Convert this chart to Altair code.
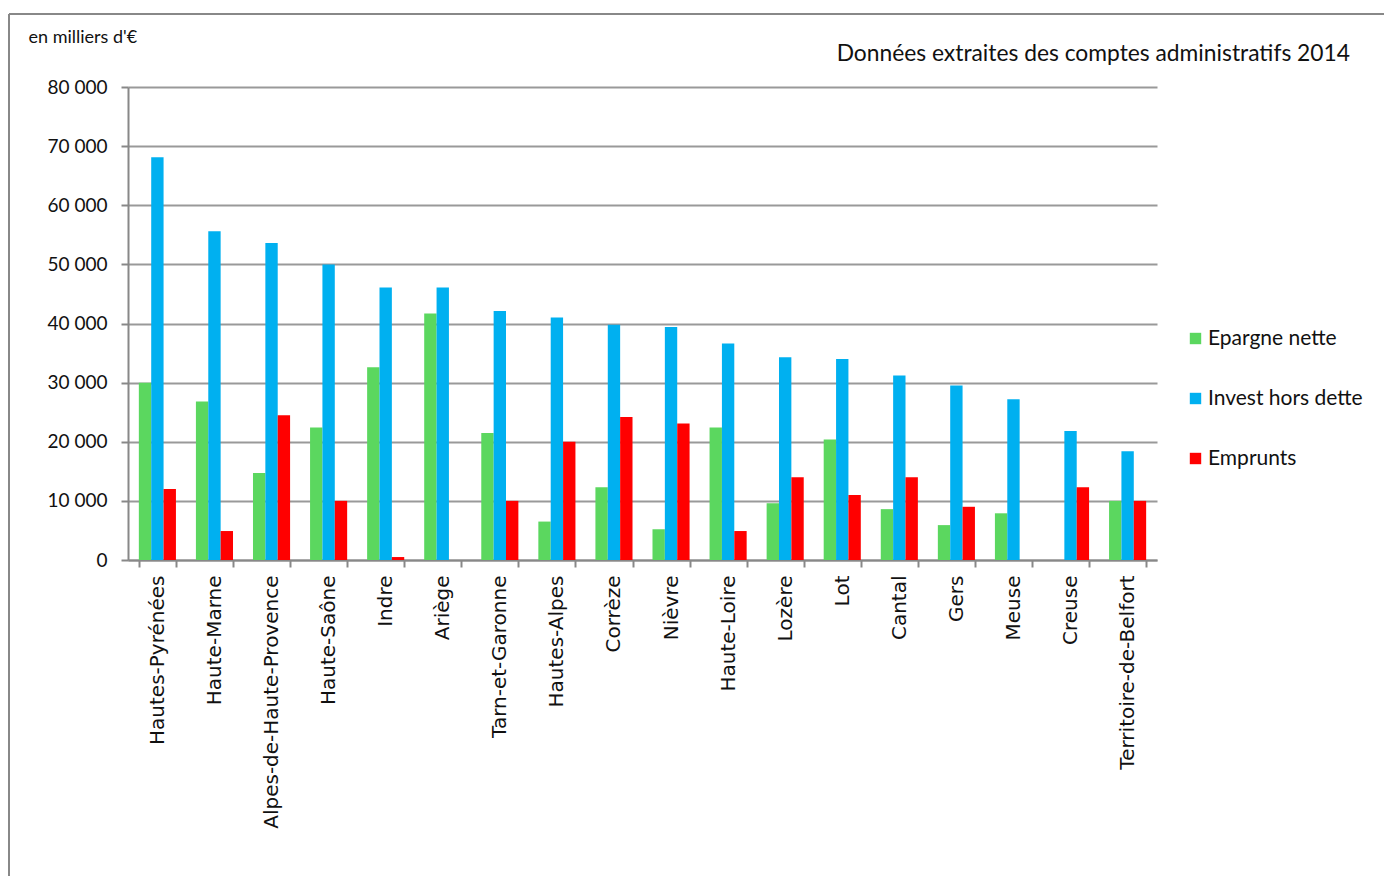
import altair as alt
import pandas as pd

departements = ["Hautes-Pyrénées", "Haute-Marne", "Alpes-de-Haute-Provence", "Haute-Saône",
                "Indre", "Ariège", "Tarn-et-Garonne", "Hautes-Alpes", "Corrèze", "Nièvre",
                "Haute-Loire", "Lozère", "Lot", "Cantal", "Gers", "Meuse", "Creuse",
                "Territoire-de-Belfort"]
epargne = [30000, 26800, 14700, 22400, 32600, 41700, 21500, 6500, 12300, 5200,
           22400, 9600, 20400, 8600, 5900, 7900, 0, 10000]
invest = [68100, 55600, 53600, 50000, 46100, 46100, 42100, 41000, 39800, 39400,
          36600, 34300, 34000, 31200, 29500, 27200, 21800, 18400]
emprunts = [12000, 4900, 24500, 10000, 500, 0, 10000, 20000, 24200, 23100,
            4900, 14000, 11000, 14000, 9000, 0, 12300, 10000]
series = ["Epargne nette", "Invest hors dette", "Emprunts"]
colors = ["#5BD75F", "#00B0F0", "#FF0000"]
title_text = "Données extraites des comptes administratifs 2014"

rows = []
for i, d in enumerate(departements):
    for s, vals in zip(series, [epargne, invest, emprunts]):
        rows.append({"dep": d, "serie": s, "valeur": vals[i]})
df = pd.DataFrame(rows)
one = pd.DataFrame({"t": [title_text]})

W, H = 1029, 473

bars = alt.Chart(df).mark_bar().encode(
    x=alt.X("dep:N", sort=departements,
            scale=alt.Scale(paddingInner=0.35, paddingOuter=0.19),
            axis=alt.Axis(title=None, labelAngle=-90, labelFont="DejaVu Sans",
                          labelFontSize=20, labelColor="#111", labelPadding=8,
                          labelAlign="right", labelBaseline="middle", labelLimit=0,
                          tickBand="extent", tickColor="#888", tickSize=7, tickWidth=2,
                          domainColor="#888", domainWidth=2, grid=False)),
    xOffset=alt.XOffset("serie:N", sort=series),
    y=alt.Y("valeur:Q", scale=alt.Scale(domain=[0, 80000], nice=False),
            axis=alt.Axis(title="en milliers d'€", titleAngle=0, titleAlign="left",
                          titleX=-100, titleY=-41, titleFont="Lato", titleFontSize=18,
                          titleFontWeight="normal", titleColor="#111",
                          values=[0, 10000, 20000, 30000, 40000, 50000, 60000, 70000, 80000],
                          labelExpr="replace(format(datum.value, ','), ',', ' ')",
                          labelFont="Lato", labelFontSize=19, labelColor="#111", labelPadding=14,
                          tickColor="#888", tickSize=7, tickWidth=2,
                          domainColor="#888", domainWidth=2,
                          gridColor="#999", gridWidth=2)),
    color=alt.Color("serie:N", sort=series,
                    scale=alt.Scale(domain=series, range=colors),
                    legend=alt.Legend(title=None, orient="none", legendX=W + 28, legendY=241,
                                      symbolType="square", symbolSize=130,
                                      symbolStrokeWidth=0, labelFont="Lato",
                                      labelFontSize=21, labelColor="#111",
                                      rowPadding=38, labelOffset=2)),
)

frame_top = alt.Chart(one).mark_rule(color="#888", strokeWidth=2).encode(
    x=alt.value(-119), x2=alt.value(W + 240), y=alt.value(-73))
frame_left = alt.Chart(one).mark_rule(color="#888", strokeWidth=2).encode(
    x=alt.value(-119), y=alt.value(-73), y2=alt.value(H + 330))

title_txt = alt.Chart(one).mark_text(align="right", baseline="middle", font="Lato",
                                     fontSize=22.8, fontWeight="normal", color="#111").encode(
    x=alt.value(W + 193), y=alt.value(-33), text="t:N")

chart = alt.layer(frame_top, frame_left, bars, title_txt).properties(
    width=W, height=H,
    autosize=alt.AutoSizeParams(type="none"),
    padding={"left": 128, "top": 87, "right": 227, "bottom": 316},
).configure(background="white", view=alt.ViewConfig(stroke=None))

chart.save("out.html", embed_options={"renderer": "svg", "actions": False})
